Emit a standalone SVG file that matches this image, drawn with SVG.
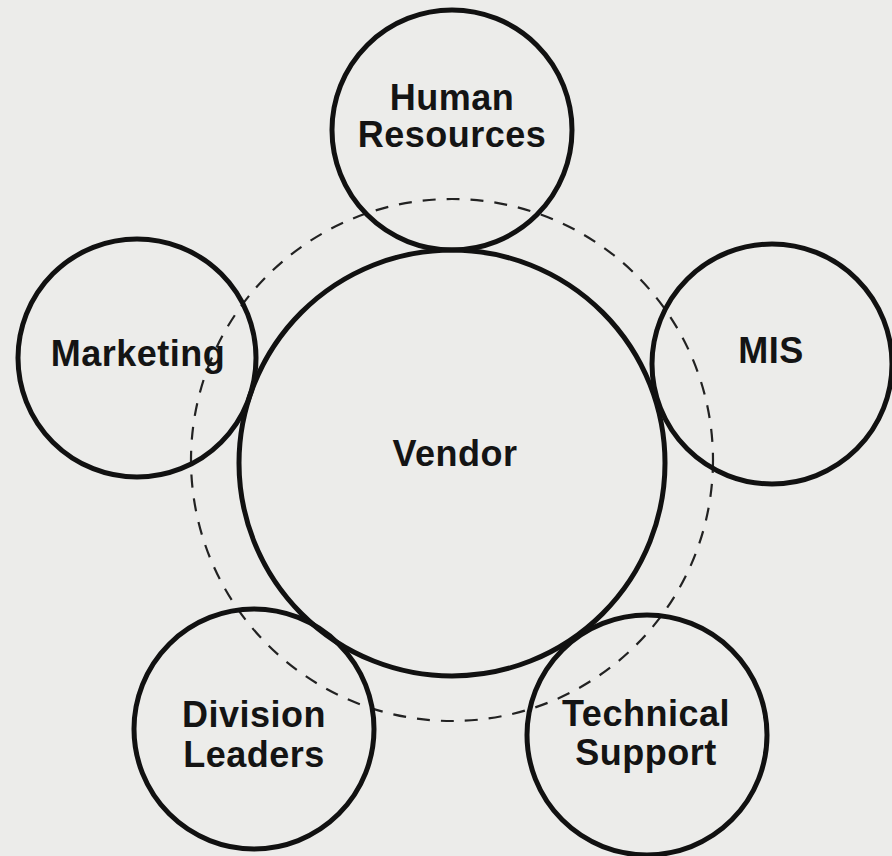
<svg xmlns="http://www.w3.org/2000/svg" width="892" height="856" viewBox="0 0 892 856">
<style>
.node{fill:none;stroke:#111;stroke-width:5}
.ring{fill:none;stroke:#222;stroke-width:2.2;stroke-dasharray:13 11}
.lbl{font-family:"Liberation Sans",Arial,sans-serif;font-weight:bold;font-size:36px;fill:#141414;text-anchor:middle;letter-spacing:0.5px}
</style>
<rect width="892" height="856" fill="#ececea"/>
<g id="connectors">
<circle class="ring" cx="452" cy="460" r="261"/>
</g>
<g id="vendor">
<circle class="node" cx="452" cy="463" r="213"/>
<text class="lbl" x="455" y="466">Vendor</text>
</g>
<g id="human-resources">
<circle class="node" cx="452" cy="130" r="120"/>
<text class="lbl" x="452" y="110">Human</text>
<text class="lbl" x="452" y="147">Resources</text>
</g>
<g id="marketing">
<circle class="node" cx="137" cy="358" r="119"/>
<text class="lbl" x="138" y="366">Marketing</text>
</g>
<g id="mis">
<circle class="node" cx="772" cy="364" r="120"/>
<text class="lbl" x="771" y="363">MIS</text>
</g>
<g id="division-leaders">
<circle class="node" cx="254" cy="729" r="120"/>
<text class="lbl" x="254" y="727">Division</text>
<text class="lbl" x="254" y="767">Leaders</text>
</g>
<g id="technical-support">
<circle class="node" cx="647" cy="735" r="120"/>
<text class="lbl" x="646" y="726">Technical</text>
<text class="lbl" x="646" y="765">Support</text>
</g>
</svg>
